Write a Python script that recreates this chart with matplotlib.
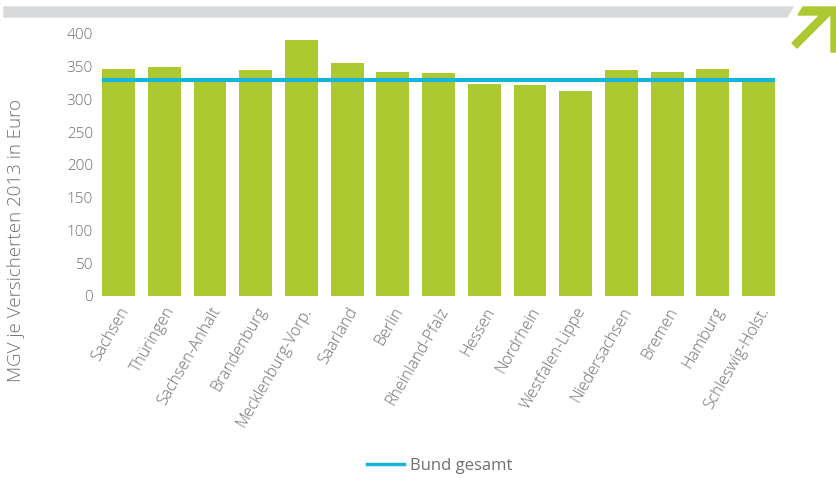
import matplotlib.pyplot as plt
from matplotlib.patches import Polygon
from matplotlib.lines import Line2D
import matplotlib.transforms as mtransforms

# data
regions = ['Sachsen', 'Thüringen', 'Sachsen-Anhalt', 'Brandenburg', 'Mecklenburg-Vorp.',
           'Saarland', 'Berlin', 'Rheinland-Pfalz', 'Hessen', 'Nordrhein',
           'Westfalen-Lippe', 'Niedersachsen', 'Bremen', 'Hamburg', 'Schleswig-Holst.']
mgv = [347, 350, 333, 345, 391, 356, 342, 340, 324, 322, 313, 345, 342, 347, 329]
bund_gesamt = 329
y_ticks = [0, 50, 100, 150, 200, 250, 300, 350, 400]

GREEN = '#acc932'
CYAN = '#16b6d8'
GREY_TXT = '#707070'

plt.rcParams['font.family'] = ['Open Sans', 'DejaVu Sans']

fig = plt.figure(figsize=(8.36, 4.78), dpi=100)
ax = fig.add_axes([0.1145, 0.3808, 0.8202, 0.5481])

x = list(range(len(regions)))
ax.bar(x, mgv, width=0.72, color=GREEN, zorder=2)
ax.hlines(bund_gesamt, -0.37, len(regions) - 1 + 0.37, color=CYAN, linewidth=3, zorder=3)

ax.set_xlim(-0.5, len(regions) - 0.5)
ax.set_ylim(0, 400)
ax.set_yticks(y_ticks)
ax.set_xticks(x)
ax.set_xticklabels(regions, rotation=60, ha='right', va='top', rotation_mode='anchor')
offset = mtransforms.ScaledTranslation(5 / 100, 0, fig.dpi_scale_trans)
for lbl in ax.get_xticklabels():
    lbl.set_transform(lbl.get_transform() + offset)

ax.tick_params(axis='y', length=0, colors=GREY_TXT, labelsize=11, pad=2)
ax.tick_params(axis='x', length=0, colors=GREY_TXT, labelsize=11.5, pad=6)
for lbl in ax.get_xticklabels() + ax.get_yticklabels():
    lbl.set_fontweight('light')
for s in ax.spines.values():
    s.set_visible(False)

fig.text(0.019, 0.496, 'MGV je Versicherten 2013 in Euro', rotation=90, ha='center', va='center',
         fontsize=13.5, color=GREY_TXT, fontweight='light')

# legend
handle = Line2D([], [], color=CYAN, linewidth=2.5)
leg = fig.legend([handle], ['Bund gesamt'], loc='center', bbox_to_anchor=(0.526, 0.025),
                 frameon=False, fontsize=12, handlelength=2.2, handletextpad=0.4)
for t in leg.get_texts():
    t.set_color(GREY_TXT)


def px(pts):
    return [[a / 836, 1 - b / 478] for a, b in pts]


# decorative header band and arrow
fig.patches.append(Polygon(px([(4, 7), (793, 7), (787, 17), (4, 17)]),
                           closed=True, transform=fig.transFigure, color='#d8d9da'))
fig.patches.append(Polygon(px([(803, 7), (836, 7), (836, 52), (831, 52), (831, 14),
                               (797, 48), (792, 43), (820, 15), (798, 15)]),
                           closed=True, transform=fig.transFigure, color=GREEN))

fig.savefig('out.png', dpi=100)
